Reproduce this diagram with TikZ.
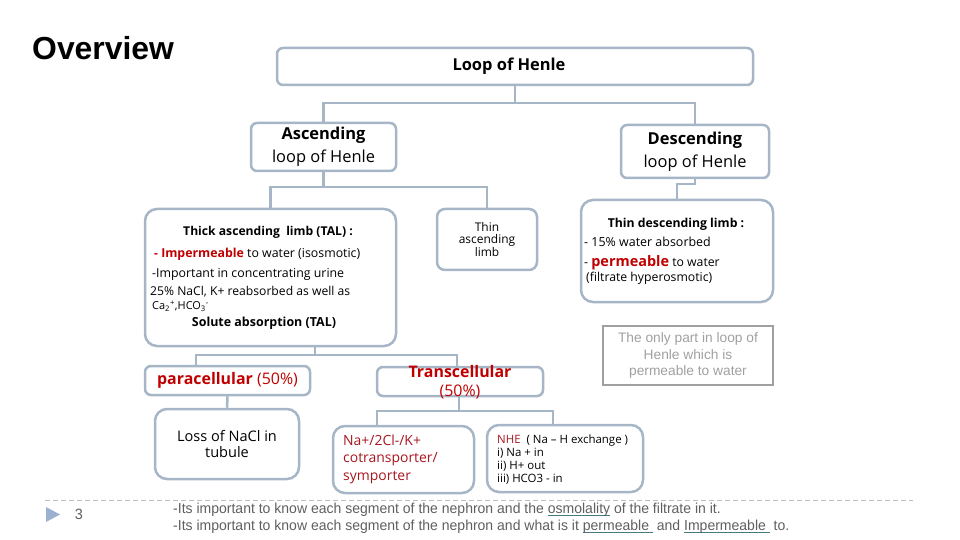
\documentclass[tikz,border=0pt]{standalone}
\usepackage{fontspec}
\setmainfont{Open Sans}
\newfontfamily\arialfont{Liberation Sans}
\newfontfamily\narrowfont[FakeStretch=0.97]{Liberation Sans}
\usepackage{tikz}

\definecolor{boxline}{RGB}{166,182,199}
\definecolor{hlred}{RGB}{192,0,0}
\definecolor{nared}{RGB}{168,22,32}
\definecolor{notegray}{RGB}{160,160,160}
\definecolor{bodygray}{RGB}{95,95,95}
\definecolor{ulteal}{RGB}{72,120,128}
\definecolor{bulletblue}{RGB}{155,177,207}

\newcommand{\fsz}[2]{\fontsize{#1}{#2}\selectfont}
\newcommand{\tealul}[1]{\setbox0\hbox{#1}\rlap{\color{ulteal}\rule[-2.4pt]{\wd0}{1.3pt}}\box0\relax}

\begin{document}
\begin{tikzpicture}[x=1bp, y=-1bp,
  every node/.style={inner sep=0pt},
  box/.style={draw=boxline, line width=2.5bp, rounded corners=6bp},
  bigbox/.style={box, rounded corners=12bp},
  link/.style={draw=boxline, line width=2.5bp}]

\useasboundingbox (0,0) rectangle (960,540);

% Title
\node[anchor=west, font=\arialfont\bfseries\fsz{32}{36}] (title) at (32,48) {Overview};

% Top level
\node[box, minimum width=476bp, minimum height=37bp] (loop) at (515,66.5) {};
\node[font=\bfseries\fsz{16.5}{18}] (looptxt) at (509,66) {Loop of Henle};

% Ascending / descending
\node[box, minimum width=145bp, minimum height=48bp, align=center, font=\fsz{16.5}{23}] (asc) at (323.5,147) {\textbf{Ascending}\\loop of Henle};
\node[box, minimum width=148bp, minimum height=53bp, align=center, font=\fsz{16.5}{23}] (desc) at (695,151.5) {\textbf{Descending}\\loop of Henle};

% Limbs
\node[bigbox, minimum width=251bp, minimum height=137bp] (thick) at (270.5,277.5) {};
\node[box, rounded corners=8bp, minimum width=100bp, minimum height=61bp, align=center, font=\fsz{12}{13}] (thinasc) at (487,239.5) {Thin\\ascending\\limb};
\node[bigbox, minimum width=192bp, minimum height=102bp] (thindesc) at (677,251) {};

\node[font=\bfseries\fsz{12.2}{13}] (thickhead) at (268,232) {Thick ascending\ \ limb (TAL) :};
\node[anchor=west, font=\fsz{12.4}{13}] (thickimp) at (154,254) {{\color{hlred}\bfseries{\large -} Impermeable} to water (isosmotic)};
\node[anchor=west, font=\fsz{12.4}{13}] (thickconc) at (152,274) {-Important in concentrating urine};
\node[anchor=west, font=\fsz{12.2}{13}] (thickpct) at (150,292) {25\% NaCl, K+ reabsorbed as well as};
\node[anchor=west, font=\fsz{11}{12}] (thickions) at (152,306) {Ca\textsubscript{2}\textsuperscript{+},HCO\textsubscript{3}\textsuperscript{-}};
\node[font=\bfseries\fsz{12.5}{13}] (thicksol) at (264,323) {Solute absorption (TAL)};

\node[font=\bfseries\fsz{12.3}{13}] (tdhead) at (676,224) {Thin descending limb :};
\node[anchor=west, font=\fsz{12.5}{13}] (tdwater) at (584,242) {- 15\% water absorbed};
\node[anchor=west, font=\fsz{12.3}{13}] (tdperm) at (584,263) {- {\color{hlred}\bfseries\fsz{14.5}{15}permeable} to water};
\node[anchor=west, font=\fsz{12.3}{13}] (tdfilt) at (586,278) {(filtrate hyperosmotic)};

% Note
\node[draw=notegray, line width=2.5bp, minimum width=170bp, minimum height=59bp, align=center, text=notegray, font=\arialfont\fsz{13.8}{17}] (note) at (688,355.5) {The only part in loop of\\Henle which is\\permeable to water};

% Solute routes
\node[box, minimum width=165bp, minimum height=29bp, text=hlred, font=\fsz{16}{18}] (para) at (227.5,380.5) {\textbf{paracellular} (50\%)};
\node[box, minimum width=166bp, minimum height=29bp] (trans) at (460,381.5) {};
\node[align=center, text=hlred, font=\fsz{16}{19}] (transtxt) at (460,382) {\textbf{Transcellular}\\(50\%)};

\node[bigbox, minimum width=144bp, minimum height=70bp, align=center, font=\fsz{14.6}{17}] (loss) at (227,444) {Loss of NaCl in\\tubule};
\node[bigbox, minimum width=141bp, minimum height=67bp] (na) at (403.5,459.5) {};
\node[anchor=west, align=left, text=nared, font=\fsz{14}{17.5}] (natxt) at (343,459) {Na+/2Cl-/K+\\cotransporter/\\symporter};
\node[bigbox, minimum width=156bp, minimum height=67bp] (nhe) at (565,458.5) {};
\node[anchor=west, align=left, font=\fsz{11.5}{13}] (nhetxt) at (497,459.5) {{\color{nared}NHE}\ \ ( Na -- H exchange )\\i) Na + in\\ii) H+ out\\iii) HCO3 - in};

% Connectors
\coordinate (jtop) at (515,103);
\draw[link] (loop.south) -- (jtop);
\draw[link] (asc.north) |- (jtop) -| (desc.north);

\coordinate (jasc) at (323.5,187);
\draw[link] (asc.south) -- (jasc);
\draw[link] (thick.north) |- (jasc) -| (thinasc.north);

\draw[link] (desc.south) -- ++(0,5) -| (thindesc.north);

\coordinate (jthick) at (315,355);
\draw[link] (thick.south -| jthick) -- (jthick);
\draw[link] (para.north -| 196,0) |- (jthick) -| (trans.north -| 457,0);

\draw[link] (para.south) -- (loss.north);

\coordinate (jtrans) at (459,411);
\draw[link] (trans.south -| jtrans) -- (jtrans);
\draw[link] (na.north -| 377,0) |- (jtrans) -| (nhe.north -| 553,0);

% Footer
\draw[notegray!70, line width=0.8bp, dash pattern=on 5bp off 3bp] (45,500) -- (913,500);
\fill[bulletblue] (46,507) -- (60,514.5) -- (46,522) -- cycle;
\node[text=bodygray, font=\narrowfont\fsz{15}{16}] (pgnum) at (79,514) {3};
\node[anchor=west, text=bodygray, font=\narrowfont\fsz{14.5}{15}] (noteA) at (173,510) {-Its important to know each segment of the nephron and the \tealul{osmolality} of the filtrate in it.};
\node[anchor=west, text=bodygray, font=\narrowfont\fsz{14.5}{15}] (noteB) at (173,527) {-Its important to know each segment of the nephron and what is it \tealul{permeable\ } and \tealul{Impermeable\ } to.};

\end{tikzpicture}
\end{document}
